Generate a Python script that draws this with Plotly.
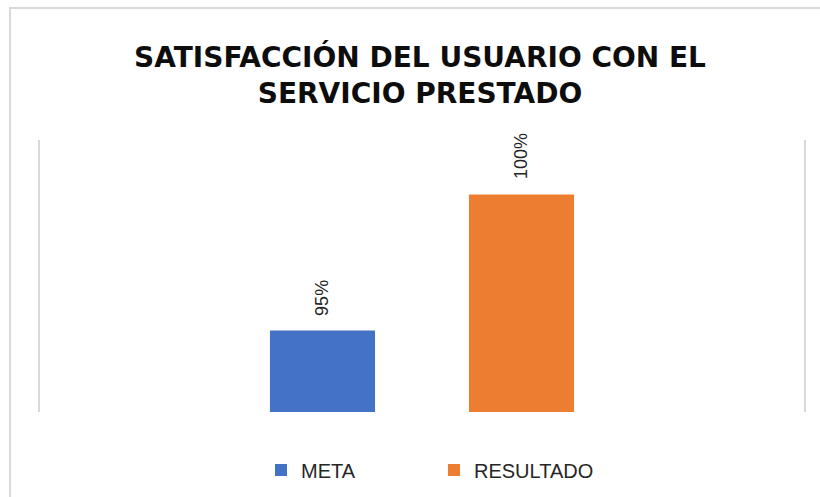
import plotly.graph_objects as go

# Data
categories = ["SATISFACCIÓN"]
series_names = ["META", "RESULTADO"]
series_values = [0.95, 1.00]
series_colors = ["#4472C4", "#ED7D31"]
title_text = "SATISFACCIÓN DEL USUARIO CON EL<br>SERVICIO PRESTADO"

W, H = 820, 497
m_l, m_r, m_t, m_b = 40, 16, 140, 85
plot_w = W - m_l - m_r
plot_h = H - m_t - m_b

bargap = 0.479
bargroupgap = 0.472
group_w = plot_w * (1 - bargap)
slot_w = group_w / len(series_names)

fig = go.Figure()
for i, (name, val, col) in enumerate(zip(series_names, series_values, series_colors)):
    fig.add_trace(go.Bar(
        x=categories, y=[val], name=name,
        marker=dict(color=col, line=dict(width=0)),
    ))
    offset_px = -group_w / 2 + slot_w * (i + 0.5)
    fig.add_annotation(
        x=categories[0], y=val, xref="x", yref="y",
        text=f"{val:.0%}", textangle=-90, showarrow=False,
        xanchor="center", yanchor="bottom", xshift=offset_px, yshift=13,
        font=dict(family="Liberation Sans, Arial, sans-serif", size=18, color="#262626"),
    )

# outer chart border (extends past the visible frame like the original)
fig.add_shape(type="rect", xref="paper", yref="paper",
              x0=(10 - m_l) / plot_w, x1=(W + 60 - m_l) / plot_w,
              y0=-(H + 60 - (m_t + plot_h)) / plot_h, y1=(m_t + plot_h - 8) / plot_h,
              line=dict(color="#D9D9D9", width=2), fillcolor="rgba(0,0,0,0)", layer="below")

fig.update_layout(
    width=W, height=H,
    margin=dict(l=m_l, r=m_r, t=m_t, b=m_b, autoexpand=False),
    paper_bgcolor="white", plot_bgcolor="white",
    barmode="group", bargap=bargap, bargroupgap=bargroupgap,
    title=dict(text=title_text, x=420 / W, xanchor="center",
               y=1 - 67 / H, yanchor="middle",
               font=dict(family="DejaVu Sans, sans-serif", size=28, color="#0D0D0D", weight="bold")),
    showlegend=True,
    legend=dict(orientation="h", x=0.5 + 12 / plot_w, xanchor="center", y=-0.213, yanchor="middle",
                font=dict(family="Liberation Sans, Arial, sans-serif", size=20, color="#262626"),
                entrywidth=128, itemwidth=30),
    xaxis=dict(showticklabels=False, showline=False, showgrid=False, zeroline=False, ticks=""),
    yaxis=dict(range=[0.92, 1.02], showticklabels=False, showgrid=False, zeroline=False,
               showline=True, mirror=True, linecolor="#D9D9D9", linewidth=2, ticks=""),
)

fig.write_html("out.html", config={"displayModeBar": False},
               post_script="document.body.style.margin='0';document.body.style.overflow='hidden';")
